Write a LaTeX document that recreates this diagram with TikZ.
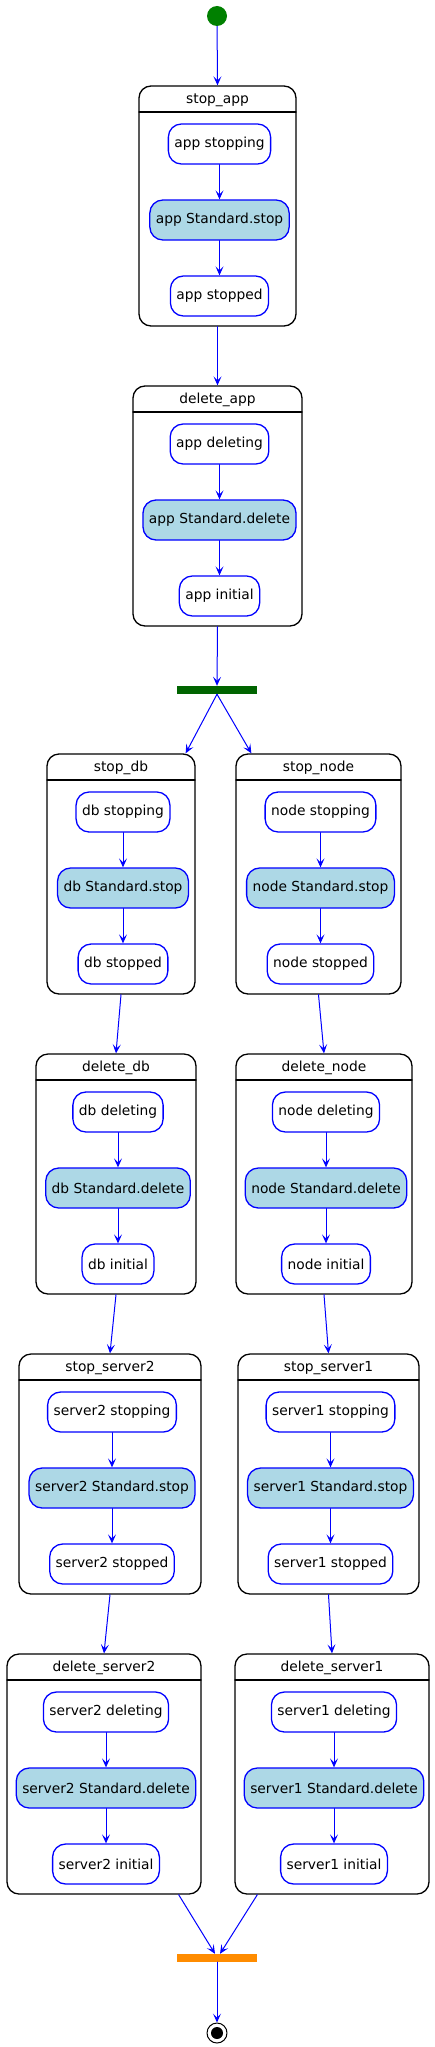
\documentclass[tikz,border=0pt]{standalone}
\usepackage{fontspec}
\setmainfont{DejaVu Sans}
\usetikzlibrary{arrows.meta}
\definecolor{stdblue}{HTML}{ADD8E6}
\definecolor{forkgreen}{HTML}{006400}
\definecolor{startgreen}{HTML}{008000}
\definecolor{joinorange}{HTML}{FF8C00}
\begin{document}
\begin{tikzpicture}[x=1pt, y=-1pt, font=\fontsize{13.8pt}{16pt}\selectfont, line join=round, line cap=round,
	tr/.style={blue, line width=1pt, -{Stealth[length=9pt,width=8pt,inset=4pt]}},
	comp/.style={draw, line width=1.3pt, rounded corners=12pt, minimum height=240pt, inner sep=0pt},
	st/.style={draw=blue, line width=1.3pt, rounded corners=13pt, minimum height=40pt, inner xsep=6pt, fill=white},
	stdst/.style={st, fill=stdblue},
	bar/.style={minimum width=80pt, minimum height=8pt, inner sep=0pt}]
	\useasboundingbox (0,0) rectangle (434,2047);
	% start and end
	\node[circle, fill=startgreen, minimum size=20pt, inner sep=0pt] (start) at (217,16) {};
	\node[circle, draw, line width=1pt, minimum size=20pt, inner sep=0pt] (final) at (217,2033) {};
	\fill (final) circle (6pt);
	\node[bar, fill=forkgreen] (fork) at (217,690) {};
	\node[bar, fill=joinorange] (join) at (217,1958) {};
	% composite states
	\foreach \nm/\ti/\xa/\xb/\ya/\sa/\sb/\sc in {
		stopapp/stop\_app/139/296/86/app stopping/app Standard.stop/app stopped,
		deleteapp/delete\_app/133/302/386/app deleting/app Standard.delete/app initial,
		stopdb/stop\_db/47/195/754/db stopping/db Standard.stop/db stopped,
		stopnode/stop\_node/236/401/754/node stopping/node Standard.stop/node stopped,
		deletedb/delete\_db/36/196/1054/db deleting/db Standard.delete/db initial,
		deletenode/delete\_node/236/412/1054/node deleting/node Standard.delete/node initial,
		stopserver2/stop\_server2/19/201/1354/server2 stopping/server2 Standard.stop/server2 stopped,
		stopserver1/stop\_server1/238/419/1354/server1 stopping/server1 Standard.stop/server1 stopped,
		deleteserver2/delete\_server2/7/201/1654/server2 deleting/server2 Standard.delete/server2 initial,
		deleteserver1/delete\_server1/235/429/1654/server1 deleting/server1 Standard.delete/server1 initial}
	{
		\node[comp, minimum width={(\xb-\xa)*1pt}] (\nm) at ({(\xa+\xb)/2},\ya+120) {};
		\node (\nm-t) at ({(\xa+\xb)/2},\ya+14) {\ti};
		\draw[line width=1.3pt] (\xa,\ya+26) -- (\xb,\ya+26);
		\node[st] (\nm-a) at ({(\xa+\xb)/2+2},\ya+58) {\sa};
		\node[stdst] (\nm-b) at ({(\xa+\xb)/2+2},\ya+134) {\sb};
		\node[st] (\nm-c) at ({(\xa+\xb)/2+2},\ya+210) {\sc};
		\draw[tr] (\nm-a) -- (\nm-b);
		\draw[tr] (\nm-b) -- (\nm-c);
	}
	% transitions
	\draw[tr] (start) -- (stopapp.north);
	\foreach \a/\b in {stopapp/deleteapp, stopdb/deletedb, deletedb/stopserver2, stopserver2/deleteserver2,
		stopnode/deletenode, deletenode/stopserver1, stopserver1/deleteserver1}
		\draw[tr] (\a.south) -- (\b.north);
	\draw[tr] (deleteapp.south) -- (fork.north);
	\draw[tr] (fork.south) -- ([xshift=-10pt]stopdb.north east);
	\draw[tr] (fork.south) -- ([xshift=16pt]stopnode.north west);
	\draw[tr] ([xshift=-23pt]deleteserver2.south east) -- ([xshift=-2pt]join.north);
	\draw[tr] ([xshift=23pt]deleteserver1.south west) -- ([xshift=3pt]join.north);
	\draw[tr] (join.south) -- (final);
\end{tikzpicture}
\end{document}
